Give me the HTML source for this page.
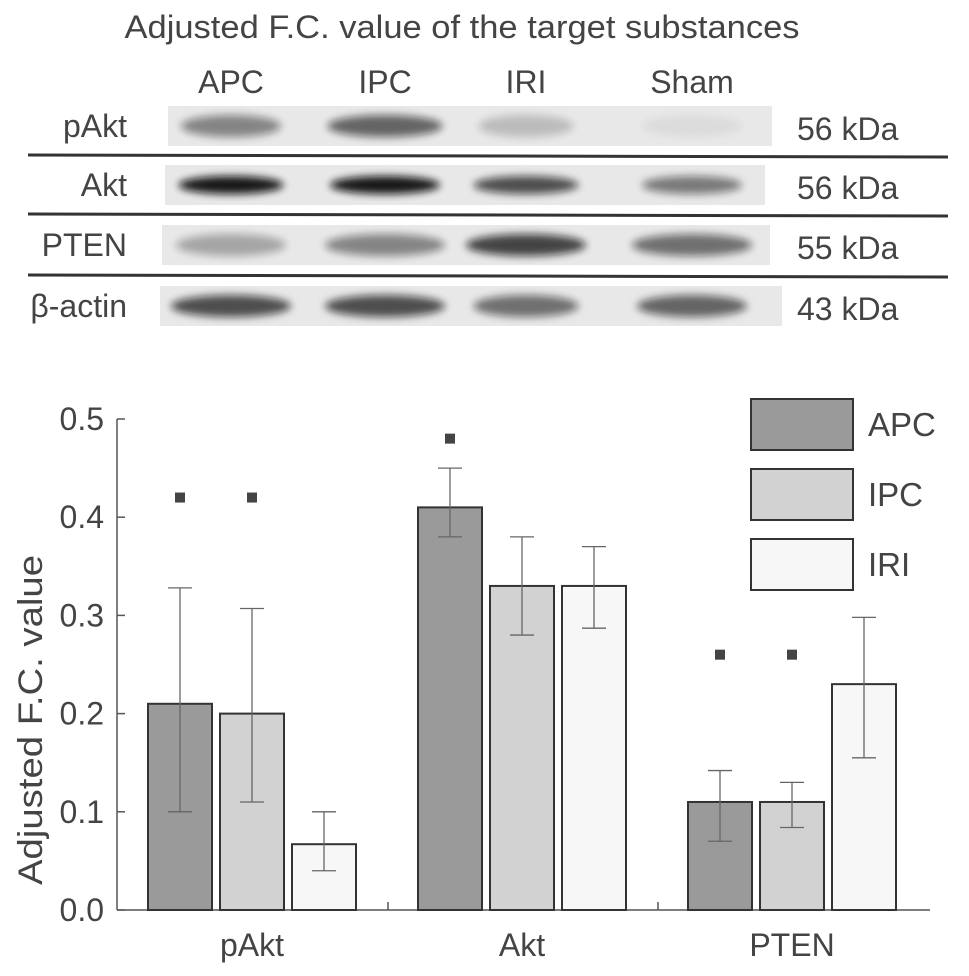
<!DOCTYPE html>
<html><head><meta charset="utf-8"><style>
body{margin:0;background:#fff;}
svg{display:block;font-family:"Liberation Sans",sans-serif;}
</style></head><body>
<svg id="fig" width="969" height="976" viewBox="0 0 969 976">
<defs>
<filter id="blur" x="-20%" y="-50%" width="140%" height="200%"><feGaussianBlur stdDeviation="4"/></filter>
</defs>
<rect x="0" y="0" width="969" height="976" fill="#fff"/>
<text x="462" y="38" font-size="32" fill="#444" text-anchor="middle" textLength="675" lengthAdjust="spacingAndGlyphs">Adjusted F.C. value of the target substances</text>
<g font-size="32" fill="#444" text-anchor="middle">
<text x="231" y="93">APC</text>
<text x="385" y="93">IPC</text>
<text x="526" y="93">IRI</text>
<text x="692" y="93">Sham</text>
</g>
<g id="blots"></g>
<g id="chart"></g>
</svg>
<script>
const NS="http://www.w3.org/2000/svg";
function mk(tag,attrs,parent,txt){const e=document.createElementNS(NS,tag);for(const k in attrs)e.setAttribute(k,attrs[k]);if(txt!==undefined)e.textContent=txt;parent.appendChild(e);return e;}
// ---- blots ----
const blots=document.getElementById('blots');
const rowNames=['pAkt','Akt','PTEN','β-actin'];
const rowKda=['56 kDa','56 kDa','55 kDa','43 kDa'];
const rowY=[126,185,245,306];
const stripX=[[168,772],[165,765],[162,770],[160,782]];
const laneX=[231,385,526,692];
const bandDark=[[0.45,0.6,0.2,0.05],[0.95,0.95,0.7,0.5],[0.3,0.45,0.75,0.55],[0.7,0.7,0.55,0.6]];
const bandW=[[100,115,95,100],[105,110,105,100],[110,120,120,120],[120,120,105,110]];
rowNames.forEach((n,i)=>{
  const g=mk('g',{},blots);
  
  
  const s=stripX[i];
  const strip=mk('rect',{x:s[0],y:rowY[i]-20,width:s[1]-s[0],height:40,fill:'#e8e8e8'},g);
  
  
  laneX.forEach((lx,j)=>{
    const d=bandDark[i][j];
    const b=mk('ellipse',{cx:lx,cy:rowY[i],rx:bandW[i][j]/2,ry:i==1?9:11,fill:'#111',opacity:d,filter:'url(#blur)'},g);
    
    
  });
  const lab=mk('text',{x:127,y:rowY[i]+11,'font-size':32,fill:'#444','text-anchor':'end'},g,n);
  
  
  const kd=mk('text',{x:797,y:rowY[i]+14,'font-size':32,fill:'#444'},g,rowKda[i]);
  
  
});
[[155,157],[214,216],[275,277]].forEach((y,i)=>{
  const l=mk('line',{x1:28,y1:y[0],x2:948,y2:y[1],stroke:'#333','stroke-width':3},blots);
  
  
});
// ---- chart data ----
const groups=['pAkt','Akt','PTEN'];
const series=['APC','IPC','IRI'];
const apcVals=[0.21,0.41,0.11];
const ipcVals=[0.20,0.33,0.11];
const iriVals=[0.067,0.33,0.23];
const apcErrLo=[0.10,0.38,0.07];
const apcErrHi=[0.328,0.45,0.142];
const ipcErrLo=[0.11,0.28,0.084];
const ipcErrHi=[0.307,0.38,0.13];
const iriErrLo=[0.04,0.287,0.155];
const iriErrHi=[0.10,0.37,0.298];
const markerVals=[[0.42,0.42,null],[0.48,null,null],[0.26,0.26,null]];
const yTicks=[0.0,0.1,0.2,0.3,0.4,0.5];
const colors=['#9a9a9a','#d2d2d2','#f7f7f7'];
const y0=910,yTop=419,x0=117;
const yS=v=>y0-(v/0.5)*(y0-yTop);
const groupStart=[148,418,688],barW=64,barStep=72;
const xS=(gi,si)=>groupStart[gi]+si*barStep;
const chart=document.getElementById('chart');
const vals=[apcVals,ipcVals,iriVals],lo=[apcErrLo,ipcErrLo,iriErrLo],hi=[apcErrHi,ipcErrHi,iriErrHi];
const ax=mk('line',{x1:x0,y1:y0,x2:930,y2:y0,stroke:'#555','stroke-width':1.5},chart);


const ay=mk('line',{x1:x0,y1:y0,x2:x0,y2:yTop,stroke:'#555','stroke-width':1.5},chart);


yTicks.forEach(t=>{
  const tk=mk('line',{x1:x0,y1:yS(t),x2:x0+8,y2:yS(t),stroke:'#555','stroke-width':1.5},chart);
  
  
  const tl=mk('text',{x:104,y:yS(t)+11,'font-size':32,fill:'#444','text-anchor':'end'},chart,t.toFixed(1));
  
  
});
[388,658].forEach(x=>{
  const tk=mk('line',{x1:x,y1:y0,x2:x,y2:y0-8,stroke:'#555','stroke-width':1.5},chart);
  
  
});
const yt=mk('text',{x:0,y:0,'font-size':34,fill:'#444','text-anchor':'middle',textLength:330,lengthAdjust:'spacingAndGlyphs',transform:'translate(42,720) rotate(-90)'},chart,'Adjusted F.C. value');


groups.forEach((g,gi)=>{
  const cx=xS(gi,1)+barW/2;
  const gl=mk('text',{x:cx,y:956,'font-size':32,fill:'#444','text-anchor':'middle'},chart,g);
  
  
  series.forEach((s,si)=>{
    const v=vals[si][gi],x=xS(gi,si);
    const r=mk('rect',{x:x,y:yS(v),width:barW,height:y0-yS(v),fill:colors[si],stroke:'#333','stroke-width':2},chart);
    
    
    const cxb=x+barW/2;
    const e=mk('path',{d:`M${cxb},${yS(lo[si][gi])}V${yS(hi[si][gi])}M${cxb-12},${yS(lo[si][gi])}H${cxb+12}M${cxb-12},${yS(hi[si][gi])}H${cxb+12}`,stroke:'#666','stroke-width':1.3,fill:'none'},chart);
    
    
    const m=markerVals[gi][si];
    if(m!==null){
      const mm=mk('rect',{x:cxb-5,y:yS(m)-5,width:10,height:10,fill:'#444'},chart);
      
      
    }
  });
});
series.forEach((s,si)=>{
  const y=399+si*70;
  const lb=mk('rect',{x:751,y:y,width:102,height:51,fill:colors[si],stroke:'#333','stroke-width':2},chart);
  
  
  const lt=mk('text',{x:868,y:y+37,'font-size':33,fill:'#444'},chart,s);
  
  
});
</script>
</body></html>
